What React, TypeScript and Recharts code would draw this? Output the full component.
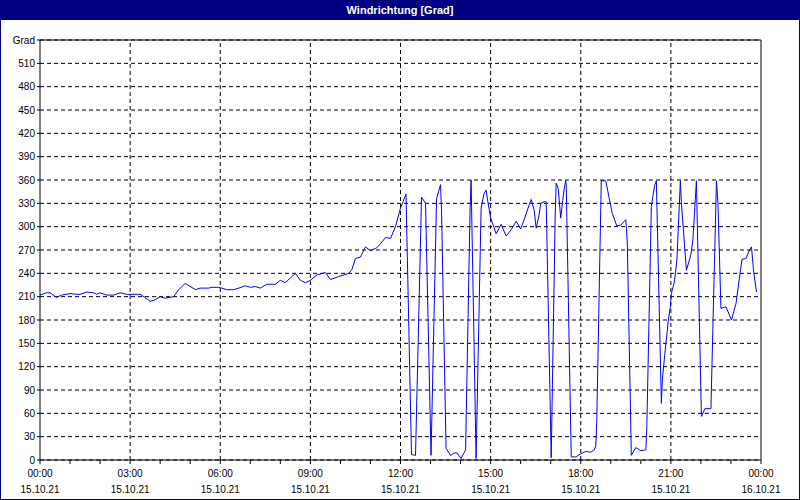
import { LineChart, Line, XAxis, YAxis, CartesianGrid, ReferenceLine } from 'recharts';

// minutes since 15.10.21 00:00
const minutes = [
  0, 13, 20, 33, 43, 60, 73, 80, 93, 107, 113, 120, 133, 147, 160, 173, 180, 200, 210, 220,
  230, 240, 250, 267, 277, 290, 300, 311, 320, 337, 343, 357, 363, 373, 387, 397, 410, 420, 430, 440,
  453, 470, 480, 490, 510, 520, 530, 540, 553, 570, 580, 593, 607, 617, 623, 630, 640, 650, 660, 673,
  680, 690, 700, 710, 720, 725, 731, 742, 750, 762, 770, 781, 792, 800, 802, 811, 820, 827, 833, 841,
  850, 859, 861, 871, 881, 887, 891, 895, 900, 905, 911, 921, 931, 941, 951, 960, 968, 977, 981, 987,
  991, 997, 1000, 1007, 1011, 1021, 1029, 1031, 1035, 1040, 1044, 1047, 1050, 1051, 1061, 1070, 1080, 1090, 1100, 1107,
  1110, 1112, 1121, 1130, 1137, 1143, 1152, 1160, 1170, 1173, 1181, 1190, 1200, 1210, 1212, 1221, 1225, 1228, 1231, 1241,
  1243, 1248, 1255, 1259, 1261, 1267, 1272, 1279, 1281, 1285, 1291, 1297, 1300, 1304, 1311, 1321, 1328, 1340, 1351, 1354,
  1360, 1370, 1381, 1390, 1399, 1402, 1410, 1417, 1421, 1425, 1431,
];

const degrees = [
  212, 215, 215, 209, 212, 214, 213, 213, 216, 215, 213, 215, 212, 212, 215, 213, 213, 213, 209, 204,
  206, 210, 208, 210, 219, 227, 223, 219, 221, 221, 222, 222, 221, 219, 219, 221, 224, 222, 223, 221,
  226, 226, 231, 228, 240, 231, 228, 231, 238, 241, 232, 235, 238, 240, 245, 259, 261, 274, 269, 273,
  278, 286, 285, 300, 324, 332, 342, 7, 6, 338, 330, 6, 336, 354, 319, 15, 6, 9, 9, 2,
  13, 324, 360, 2, 324, 343, 347, 330, 311, 302, 291, 303, 288, 296, 307, 297, 311, 328, 335, 321,
  298, 316, 330, 332, 332, 3, 315, 356, 349, 311, 334, 349, 359, 354, 4, 4, 8, 11, 10, 13,
  18, 51, 359, 359, 336, 317, 301, 302, 309, 279, 6, 16, 12, 13, 43, 326, 343, 354, 359, 73,
  103, 137, 180, 197, 214, 229, 257, 359, 330, 296, 244, 257, 264, 283, 359, 56, 66, 66, 359, 330,
  195, 197, 180, 201, 244, 258, 259, 270, 274, 244, 216,
];

const xTicks = [0, 60, 120, 180, 240, 300, 360, 420, 480, 540, 600, 660, 720, 780, 840, 900, 960, 1020, 1080, 1140, 1200, 1260, 1320, 1380, 1440];
const gridTimes = [180, 360, 540, 720, 900, 1080, 1260];
const timeLabels = ['00:00', '03:00', '06:00', '09:00', '12:00', '15:00', '18:00', '21:00', '00:00'];
const dateLabels = ['15.10.21', '15.10.21', '15.10.21', '15.10.21', '15.10.21', '15.10.21', '15.10.21', '15.10.21', '16.10.21'];
const degreeTicks = [0, 30, 60, 90, 120, 150, 180, 210, 240, 270, 300, 330, 360, 390, 420, 450, 480, 510, 540];
const compassTicks = [0, 45, 90, 135, 180, 225, 270, 315, 360, 405, 450, 495, 540];
const compassLabels = ['N', 'NE', 'E', 'SE', 'S', 'SW', 'W', 'NW', 'N', 'NE', 'E', 'SE', 'S'];

const data = minutes.map((t, i) => ({ t, deg: degrees[i] }));

const FONT = '"Liberation Sans", Arial, sans-serif';

function TimeTick({ x, y, payload }: any) {
  const v = payload.value as number;
  if (v % 180 !== 0) return null;
  const i = v / 180;
  return (
    <g>
      <text x={x} y={y} dy={11} textAnchor="middle" fontSize={10} fontFamily={FONT} fill="#000">
        {timeLabels[i]}
      </text>
      <text x={x} y={y} dy={27} textAnchor="middle" fontSize={10} fontFamily={FONT} fill="#000">
        {dateLabels[i]}
      </text>
    </g>
  );
}

export default function App() {
  return (
    <div
      style={{
        position: 'absolute',
        left: 0,
        top: 0,
        width: 800,
        height: 500,
        boxSizing: 'border-box',
        border: '1px solid #000080',
        background: '#fff',
        overflow: 'hidden',
      }}
    >
      <div
        style={{
          height: 19,
          background: '#000080',
          color: '#fff',
          fontFamily: FONT,
          fontWeight: 'bold',
          fontSize: 11,
          lineHeight: '18px',
          textAlign: 'center',
        }}
      >
        Windrichtung [Grad]
      </div>
      <div style={{ position: 'absolute', left: -1, top: -1 }}>
        <LineChart width={800} height={500} data={data} margin={{ top: 40, right: 0, bottom: 0, left: 0 }}>
          <CartesianGrid vertical={false} stroke="#000" strokeDasharray="4 3" />
          {gridTimes.map((t) => (
            <ReferenceLine key={t} x={t} stroke="#000" strokeDasharray="4 3" />
          ))}
          <ReferenceLine y={540} stroke="#000" />
          <XAxis
            dataKey="t"
            type="number"
            domain={[0, 1440]}
            ticks={xTicks}
            interval={0}
            height={40}
            stroke="#000"
            tickSize={4}
            tickMargin={2}
            tick={<TimeTick />}
          />
          <YAxis
            domain={[0, 540]}
            ticks={degreeTicks}
            interval={0}
            width={40}
            stroke="#000"
            tickSize={3}
            tickMargin={2}
            tick={{ fill: '#000', fontSize: 10, fontFamily: FONT }}
            tickFormatter={(v: number) => (v === 540 ? 'Grad' : String(v))}
          />
          <YAxis
            yAxisId="right"
            orientation="right"
            domain={[0, 540]}
            ticks={compassTicks}
            interval={0}
            width={39}
            stroke="#000"
            tickSize={3}
            tickMargin={1}
            tick={{ fill: '#000', fontSize: 10, fontFamily: FONT }}
            tickFormatter={(v: number) => compassLabels[compassTicks.indexOf(v)]}
          />
          <Line
            type="linear"
            dataKey="deg"
            stroke="#0000ff"
            strokeWidth={1}
            dot={false}
            isAnimationActive={false}
          />
        </LineChart>
      </div>
    </div>
  );
}
